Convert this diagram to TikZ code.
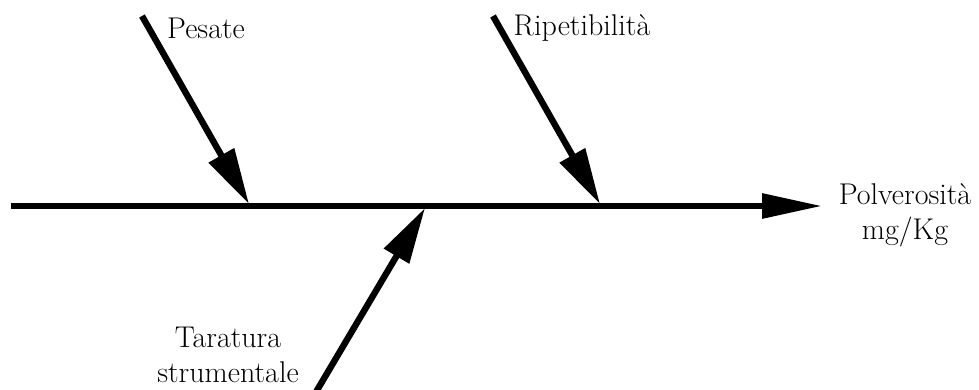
\documentclass[tikz,border=0pt]{standalone}
\usetikzlibrary{arrows.meta}
\begin{document}
\begin{tikzpicture}[x=0.5pt,y=-0.5pt,
  bone/.style={line width=3.2pt,-{Triangle[length=28pt,width=14pt]}},
  spine/.style={line width=3pt,-{Triangle[length=30pt,width=12pt]}},
  lbl/.style={font=\fontsize{15}{17.5}\selectfont,align=center,inner sep=0pt}]
\useasboundingbox (0,0) rectangle (979,390);
\coordinate (s0) at (11,206);
\coordinate (s1) at (822,206);
\coordinate (p0) at (142,16);
\coordinate (p1) at (249,204);
\coordinate (r0) at (493,16);
\coordinate (r1) at (600,204);
\coordinate (t0) at (316,392);
\coordinate (t1) at (425,208);
\draw[spine] (s0) -- (s1);
\draw[bone] (p0) -- (p1);
\draw[bone] (r0) -- (r1);
\draw[bone] (t0) -- (t1);
\node[lbl] (pes) at (206,28) {Pesate};
\node[lbl] (rip) at (582,28) {Ripetibilità};
\node[lbl] (pol) at (905,215) {Polverosità\\mg/Kg};
\node[lbl] (tar) at (228,355) {Taratura\\strumentale};
\end{tikzpicture}
\end{document}
